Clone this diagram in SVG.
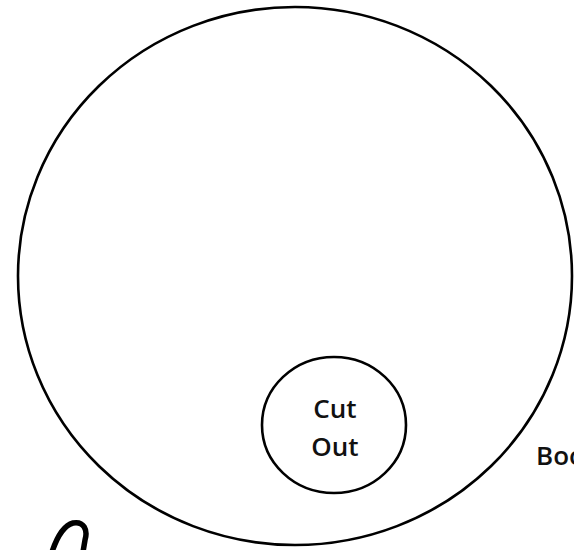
<svg xmlns="http://www.w3.org/2000/svg" width="574" height="550" viewBox="0 0 574 550">
  <style>
    .outline { fill: none; stroke: #000; stroke-width: 2.6; }
    .label { font-family: "Open Sans", "Liberation Sans", Arial, sans-serif; font-size: 26px; font-weight: 600; fill: #111; }
  </style>
  <rect width="574" height="550" fill="#fff"/>
  <g id="body">
    <ellipse class="outline" cx="295" cy="276" rx="277" ry="269"/>
  </g>
  <g id="cutout">
    <ellipse class="outline" cx="334" cy="425" rx="72" ry="68"/>
    <text class="label" x="335" y="418" text-anchor="middle">Cut</text>
    <text class="label" x="335" y="456" text-anchor="middle">Out</text>
  </g>
  <g id="body-label">
    <text class="label" x="536" y="465">Boo</text>
  </g>
  <g id="scribble">
    <path d="M 52 552 C 56 540, 62 526, 73 523 C 84 521, 88 530, 85 540 L 83 552" fill="none" stroke="#000" stroke-width="5.5" stroke-linecap="round"/>
  </g>
</svg>
